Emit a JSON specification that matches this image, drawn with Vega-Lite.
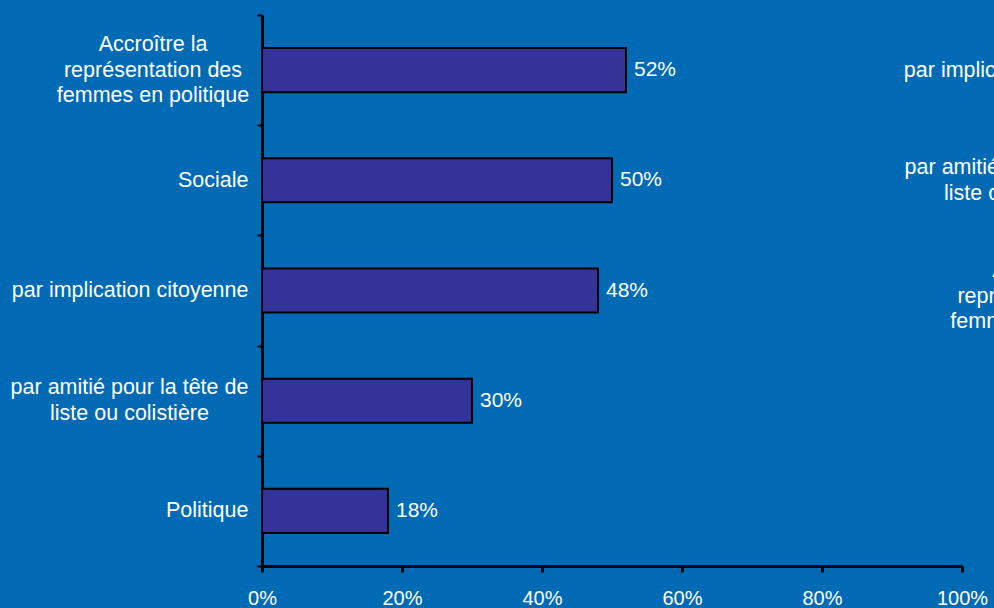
{
  "$schema": "https://vega.github.io/schema/vega-lite/v6.json",
  "autosize": {"type": "none"},
  "width": 700,
  "height": 551,
  "padding": {"left": 262, "top": 15, "right": 32, "bottom": 42},
  "background": "#006AB4",
  "config": {"view": {"stroke": null}, "font": "Liberation Sans"},
  "datasets": {
    "resultats": [
      {"categorie": "Accroître la\nreprésentation des\nfemmes en politique", "valeur": 0.52},
      {"categorie": "Sociale", "valeur": 0.50},
      {"categorie": "par implication citoyenne", "valeur": 0.48},
      {"categorie": "par amitié pour la tête de\nliste ou colistière", "valeur": 0.30},
      {"categorie": "Politique", "valeur": 0.18}
    ],
    "autre": [
      {"libelle": "par implication citoyenne"},
      {"libelle": "par amitié pour la tête de\nliste ou colistière"},
      {"libelle": "Accroître la\nreprésentation des\nfemmes en politique"},
      {"libelle": "Sociale"},
      {"libelle": "Politique"}
    ]
  },
  "layer": [
    {
      "data": {"name": "resultats"},
      "encoding": {
        "y": {
          "field": "categorie",
          "type": "nominal",
          "sort": null,
          "scale": {"paddingInner": 0, "paddingOuter": 0},
          "axis": {
            "title": null,
            "domainColor": "black",
            "domainWidth": 3,
            "tickColor": "black",
            "tickWidth": 2,
            "tickSize": 5,
            "tickBand": "extent",
            "labelColor": "white",
            "labelFontSize": 21.5,
            "labelLineHeight": 25.5,
            "labelLimit": 400,
            "labelBaseline": "middle",
            "labelExpr": "isValid(datum.value) ? split(datum.value, '\\n') : ''",
            "labelAlign": {
              "condition": [
                {"test": "indexof('' + datum.value, 'Accro') == 0", "value": "center"},
                {"test": "indexof('' + datum.value, 'par amiti') == 0", "value": "center"}
              ],
              "value": "right"
            },
            "labelPadding": {
              "condition": [
                {"test": "indexof('' + datum.value, 'Accro') == 0", "value": 104.5},
                {"test": "indexof('' + datum.value, 'par amiti') == 0", "value": 128}
              ],
              "value": 9
            },
            "labelOffset": {
              "condition": [
                {"test": "indexof('' + datum.value, 'Accro') == 0", "value": -25.5},
                {"test": "indexof('' + datum.value, 'par amiti') == 0", "value": -12.75}
              ],
              "value": 0
            }
          }
        },
        "x": {
          "field": "valeur",
          "type": "quantitative",
          "scale": {"domain": [0, 1], "nice": false},
          "axis": {
            "title": null,
            "format": ".0%",
            "values": [0, 0.2, 0.4, 0.6, 0.8, 1],
            "grid": false,
            "domainColor": "black",
            "domainWidth": 3,
            "tickColor": "black",
            "tickWidth": 3,
            "tickSize": 6,
            "labelColor": "white",
            "labelFontSize": 20,
            "labelPadding": 16,
            "labelFlush": false
          }
        }
      },
      "layer": [
        {"mark": {"type": "bar", "fill": "#333399", "stroke": "#000000", "strokeWidth": 2, "height": {"band": 0.4}}},
        {
          "mark": {"type": "text", "align": "left", "baseline": "middle", "dx": 8, "color": "white", "fontSize": 21},
          "encoding": {"text": {"field": "valeur", "type": "quantitative", "format": ".0%"}}
        }
      ]
    },
    {
      "data": {"name": "autre"},
      "mark": {"type": "point", "opacity": 0},
      "encoding": {
        "y": {
          "field": "libelle",
          "type": "nominal",
          "sort": null,
          "scale": {"paddingInner": 0, "paddingOuter": 0},
          "axis": {
            "orient": "right",
            "title": null,
            "domain": false,
            "ticks": false,
            "labelColor": "white",
            "labelFontSize": 21.5,
            "labelLineHeight": 25.5,
            "labelLimit": 400,
            "labelBaseline": "middle",
            "labelExpr": "isValid(datum.value) ? split(datum.value, '\\n') : ''",
            "labelAlign": {
              "condition": [
                {"test": "indexof('' + datum.value, 'Accro') == 0", "value": "center"},
                {"test": "indexof('' + datum.value, 'par amiti') == 0", "value": "center"}
              ],
              "value": "right"
            },
            "labelPadding": {
              "condition": [
                {"test": "indexof('' + datum.value, 'Accro') == 0", "value": 84},
                {"test": "indexof('' + datum.value, 'par amiti') == 0", "value": 61}
              ],
              "value": 178
            },
            "labelOffset": {
              "condition": [
                {"test": "indexof('' + datum.value, 'Accro') == 0", "value": -20},
                {"test": "indexof('' + datum.value, 'par amiti') == 0", "value": -12.75}
              ],
              "value": 0
            }
          }
        }
      }
    }
  ],
  "resolve": {"scale": {"y": "independent"}}
}
